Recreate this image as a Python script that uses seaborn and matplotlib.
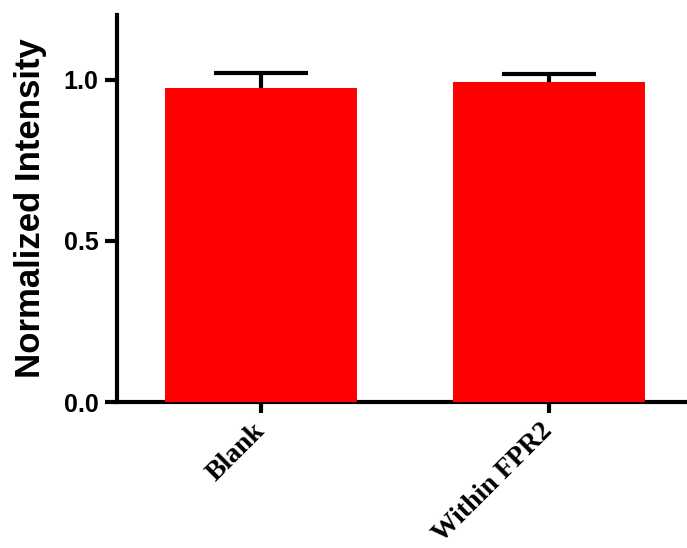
import matplotlib
matplotlib.use("Agg")
import matplotlib.pyplot as plt
import seaborn as sns
import pandas as pd
import numpy as np

categories = ["Blank", "Within FPR2"]
means = [0.975, 0.992]
err_upper = [0.045, 0.025]

sns.set_style("white")
plt.rcParams['font.family'] = ['Liberation Sans', 'DejaVu Sans']
plt.rcParams['text.color'] = 'black'
plt.rcParams['axes.labelcolor'] = 'black'
plt.rcParams['xtick.color'] = 'black'
plt.rcParams['ytick.color'] = 'black'

df = pd.DataFrame({"cat": categories, "val": means})

fig = plt.figure(figsize=(6.87, 5.48), dpi=100)
ax = fig.add_axes([0.170, 0.2664, 0.829, 0.7062])

sns.barplot(data=df, x="cat", y="val", color="#FF0000", saturation=1,
            width=0.667, ax=ax, edgecolor="none")
for p in ax.patches:
    p.set_zorder(3)

xpos = np.arange(len(categories))
cont = ax.errorbar(xpos, means, yerr=[np.zeros(len(means)), err_upper], fmt="none",
                   ecolor="black", elinewidth=3, capsize=34, capthick=3, zorder=2)
caplines = cont[1]
if len(caplines) == 2:
    caplines[0].set_visible(False)

ax.set_xlim(-0.5, 1.476)
ax.set_ylim(0, 1.2)
ax.set_yticks([0.0, 0.5, 1.0])
ax.set_yticklabels(["0.0", "0.5", "1.0"], fontsize=18, fontweight="bold", color="black")
ax.set_xticks(xpos)
ax.set_xticklabels(categories, rotation=45, ha="right", va="center", rotation_mode="anchor",
                   fontsize=20, fontweight="bold", family=["Liberation Serif"], color="black")
ax.set_xlabel("")
ax.set_ylabel("Normalized Intensity", fontsize=25, fontweight="bold", labelpad=12, color="black")

for s in ["top", "right"]:
    ax.spines[s].set_visible(False)
for s in ["left", "bottom"]:
    ax.spines[s].set_linewidth(3)
    ax.spines[s].set_color("black")
ax.tick_params(axis="y", direction="out", length=9, width=3, left=True, pad=4)
ax.tick_params(axis="x", direction="out", length=8, width=3, bottom=True, pad=10)

fig.savefig("out.png", dpi=100)
